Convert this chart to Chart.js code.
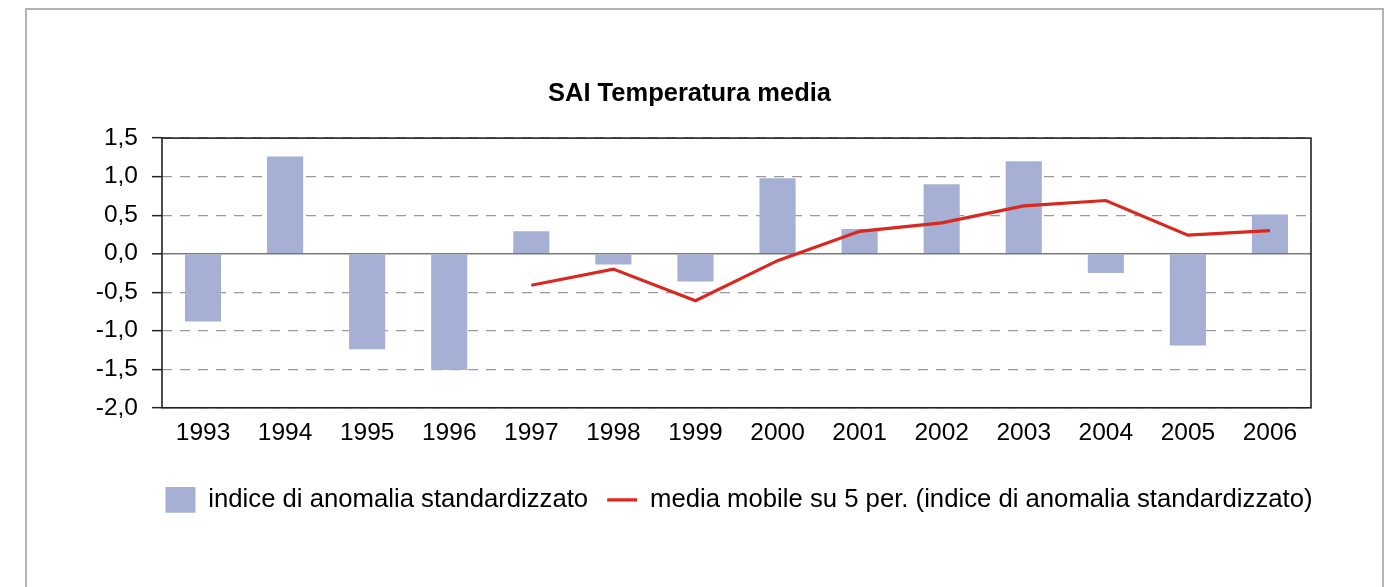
<!DOCTYPE html>
<html>
<head>
<meta charset="utf-8">
<script src="https://cdn.jsdelivr.net/npm/chart.js@4.4.0/dist/chart.umd.min.js"></script>
<style>
  html, body { margin: 0; padding: 0; background: #fff; }
  #c { display: block; }
</style>
</head>
<body>
<canvas id="c" width="1392" height="587"></canvas>
<script>
// ---- data ----
const years = ['1993','1994','1995','1996','1997','1998','1999','2000','2001','2002','2003','2004','2005','2006'];
const anomalyIndex = [-0.88, 1.26, -1.24, -1.51, 0.29, -0.14, -0.36, 0.98, 0.32, 0.90, 1.20, -0.25, -1.19, 0.51];
const movingAverage5 = [null, null, null, null, -0.41, -0.20, -0.61, -0.09, 0.29, 0.40, 0.62, 0.69, 0.24, 0.30];
const barLabel = 'indice di anomalia standardizzato';
const lineLabel = 'media mobile su 5 per. (indice di anomalia standardizzato)';
const chartTitle = 'SAI Temperatura media';
const yMin = -2.0, yMax = 1.5, yStep = 0.5;

const FONT = '"Liberation Sans", Arial, Helvetica, sans-serif';
Chart.defaults.font.family = FONT;
Chart.defaults.color = '#000';

const framePlugin = {
  id: 'frame',
  afterLayout(chart) {
    const lg = chart.legend;
    if (!lg) return;
    const a = chart.chartArea;
    const shift = (a.left + a.right) / 2 + 2.5 - (lg.left + lg.right) / 2;
    lg.left += shift;
    lg.right += shift;
  },
  beforeDraw(chart) {
    const ctx = chart.ctx;
    ctx.save();
    ctx.fillStyle = '#fff';
    ctx.fillRect(0, 0, chart.width, chart.height);
    ctx.strokeStyle = '#b4b4b4';
    ctx.lineWidth = 2;
    ctx.beginPath();
    ctx.moveTo(26, 600);
    ctx.lineTo(26, 9);
    ctx.lineTo(1383, 9);
    ctx.lineTo(1383, 600);
    ctx.stroke();
    ctx.restore();
  },
  afterDraw(chart) {
    const a = chart.chartArea;
    const ctx = chart.ctx;
    ctx.save();
    ctx.strokeStyle = '#222';
    ctx.lineWidth = 1.6;
    ctx.strokeRect(a.left, a.top, a.right - a.left, a.bottom - a.top);
    ctx.restore();
  }
};

new Chart(document.getElementById('c'), {
  type: 'bar',
  data: {
    labels: years,
    datasets: [
      {
        type: 'bar',
        label: barLabel,
        data: anomalyIndex,
        backgroundColor: '#a6afd4',
        borderWidth: 0,
        barPercentage: 0.44,
        categoryPercentage: 1.0,
        pointStyle: 'rect',
        order: 1
      },
      {
        type: 'line',
        label: lineLabel,
        data: movingAverage5,
        borderColor: '#d8281f',
        backgroundColor: '#d8281f',
        borderWidth: 3.2,
        pointRadius: 0,
        pointHoverRadius: 0,
        tension: 0,
        pointStyle: 'line',
        order: 0
      }
    ]
  },
  options: {
    responsive: false,
    animation: false,
    devicePixelRatio: 1,
    events: [],
    layout: { padding: { left: 68, right: 81, top: 20, bottom: 64.25 } },
    plugins: {
      title: {
        display: true,
        text: chartTitle,
        color: '#000',
        font: { size: 25.5, weight: 'bold', family: FONT },
        padding: { top: 59, bottom: 28.5 }
      },
      legend: {
        position: 'bottom',
        fullSize: true,
        labels: {
          usePointStyle: true,
          pointStyleWidth: 30,
          boxHeight: 26,
          padding: 19,
          color: '#000',
          font: { size: 25.7, family: FONT },
          sort: (a, b) => a.datasetIndex - b.datasetIndex
        }
      },
      tooltip: { enabled: false }
    },
    scales: {
      x: {
        offset: true,
        grid: { display: false, drawTicks: false },
        border: { display: false },
        ticks: { color: '#000', font: { size: 24.5, family: FONT }, padding: 11, maxRotation: 0, autoSkip: false },
        afterFit: s => { s.height = 60.25; }
      },
      y: {
        min: yMin,
        max: yMax,
        grid: {
          color: ctx => (ctx.tick && Math.abs(ctx.tick.value) < 1e-9) ? '#7a7a7a' : '#9a9a9a',
          lineWidth: ctx => (ctx.tick && Math.abs(ctx.tick.value) < 1e-9) ? 1.6 : 1.3,
          drawTicks: true,
          tickLength: 10,
          tickColor: '#222',
          tickWidth: 1.5
        },
        border: {
          display: false,
          dash: ctx => (ctx.tick && Math.abs(ctx.tick.value) < 1e-9) ? [] : [10, 8]
        },
        ticks: {
          stepSize: yStep,
          padding: 14,
          color: '#000',
          font: { size: 24.5, family: FONT },
          callback: v => Number(v).toFixed(1).replace('.', ',')
        },
        afterFit: s => { s.width = 94; }
      }
    }
  },
  plugins: [framePlugin]
});
</script>
</body>
</html>
